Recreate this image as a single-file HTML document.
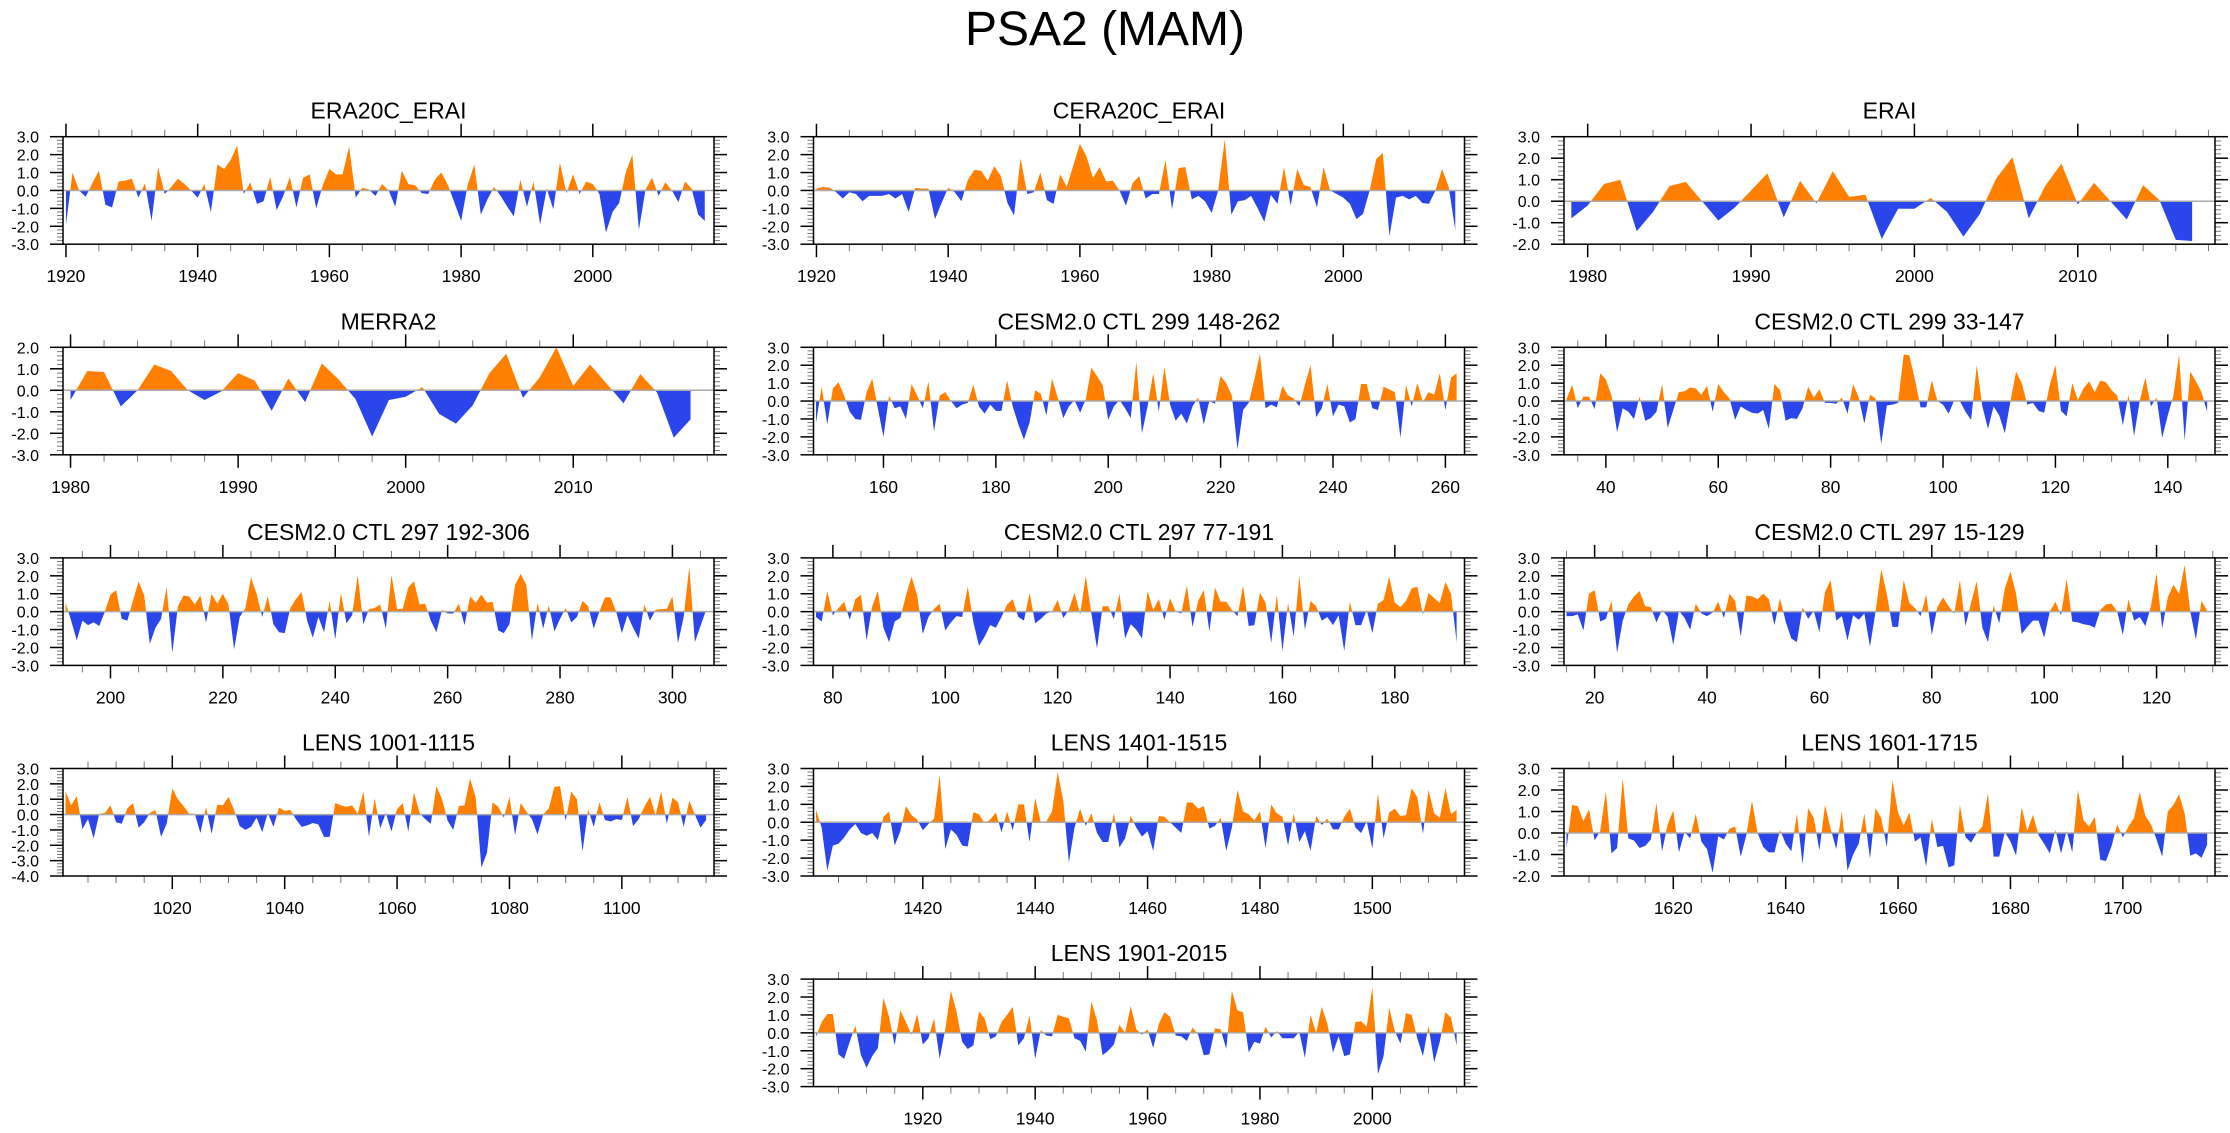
<!DOCTYPE html>
<html><head><meta charset="utf-8"><title>PSA2 (MAM)</title>
<style>html,body{margin:0;padding:0;background:#fff}svg{display:block}text{font-family:"Liberation Sans",Arial,sans-serif;fill:#000}</style>
</head><body>
<svg id="chart" xmlns="http://www.w3.org/2000/svg" width="2230" height="1133" viewBox="0 0 2230 1133">
<rect x="0" y="0" width="2230" height="1133" fill="#fff"/>
<text x="1105" y="45" font-size="48" text-anchor="middle">PSA2 (MAM)</text>
</svg>
<script>
const era20cVals=[-1.9,1.0,0.0,-0.35,0.4,1.1,-0.8,-0.95,0.5,0.55,0.65,-0.4,0.4,-1.7,1.3,-0.2,0.2,0.65,0.35,0.0,-0.4,0.35,-1.2,1.45,1.2,1.7,2.5,-0.2,0.45,-0.75,-0.6,0.75,-1.1,-0.3,0.75,-0.95,0.7,0.9,-1.0,0.3,1.2,0.9,0.9,2.45,-0.4,0.15,0.05,-0.3,0.35,0.0,-0.9,1.1,0.35,0.3,-0.15,-0.2,0.6,1.0,0.3,-0.7,-1.7,0.3,1.45,-1.35,-0.5,0.2,-0.3,-0.9,-1.45,0.6,-0.9,0.5,-1.9,0.1,-1.05,1.55,-0.15,0.9,-0.2,0.5,0.35,-0.2,-2.35,-1.2,-0.7,1.0,2.0,-2.2,0.05,0.7,-0.3,0.45,0.0,-0.65,0.5,0.1,-1.35,-1.7];
const ceraVals=[0.1,0.2,0.15,-0.1,-0.45,-0.1,-0.2,-0.6,-0.3,-0.3,-0.3,-0.2,-0.45,-0.2,-1.2,0.15,0.1,0.1,-1.6,-0.7,0.15,-0.1,-0.6,0.6,1.15,1.1,0.55,1.35,0.8,-0.7,-1.4,1.8,-0.2,-0.1,1.0,-0.55,-0.75,0.9,0.2,1.4,2.6,1.9,0.7,1.3,0.5,0.55,0.0,-0.85,0.4,0.8,-0.45,-0.2,-0.2,1.7,-1.05,1.25,1.3,-0.5,-0.3,-0.6,-1.25,0.0,2.85,-1.35,-0.6,-0.55,-0.3,-1.0,-1.75,-0.25,-0.75,1.3,-0.85,1.2,0.3,0.2,-0.95,1.3,0.0,-0.2,-0.4,-0.75,-1.6,-1.3,0.0,1.75,2.1,-2.55,-0.4,-0.3,-0.5,-0.3,-0.7,-0.75,0.0,1.2,0.2,-2.2];
const eraiVals=[-0.8,-0.2,0.8,1.0,-1.4,-0.5,0.7,0.9,0.0,-0.9,-0.3,0.5,1.3,-0.75,0.95,-0.1,1.4,0.2,0.3,-1.75,-0.35,-0.35,0.15,-0.5,-1.65,-0.6,1.05,2.05,-0.8,0.7,1.75,-0.15,0.85,0.0,-0.85,0.75,0.05,-1.8,-1.85];
const merraVals=[-0.45,0.9,0.85,-0.75,0.0,1.2,0.9,0.0,-0.45,-0.05,0.8,0.45,-0.95,0.55,-0.55,1.25,0.5,-0.4,-2.15,-0.45,-0.3,0.15,-1.1,-1.55,-0.7,0.8,1.7,-0.35,0.6,2.0,0.2,1.2,0.3,-0.6,0.75,-0.1,-2.2,-1.35];
const cesm299aVals=[-1.2,0.8,-1.3,0.7,1.05,0.3,-0.6,-1.0,-1.05,0.5,1.25,-0.4,-2.0,0.3,-0.4,-0.3,-1.0,0.95,0.3,-0.4,1.1,-1.7,0.3,0.5,0.0,-0.4,-0.2,-0.1,0.9,-0.3,-0.7,-0.2,-0.55,-0.55,1.15,-0.3,-1.3,-2.15,-1.2,0.6,0.4,-0.8,1.25,0.2,-0.95,-0.3,0.05,-0.65,0.1,1.85,1.4,0.9,-1.05,-0.3,0.05,-0.4,-0.95,2.2,-1.8,-0.3,1.55,-0.6,1.9,-0.2,-1.1,-0.7,-1.25,-0.3,0.2,-1.3,0.0,-0.15,1.4,1.0,0.3,-2.7,-0.5,-0.1,1.2,2.65,-0.4,-0.2,-0.35,0.85,0.3,0.15,-0.3,0.9,2.0,-0.9,-0.4,0.95,-0.85,-0.2,-0.3,-1.2,-1.0,0.95,0.95,-0.4,-0.5,0.8,0.65,0.5,-2.05,0.9,-0.3,1.0,-0.05,0.5,0.35,1.55,-0.5,1.3,1.55];
const cesm299bVals=[0.1,0.9,-0.4,0.25,0.25,-0.45,1.55,1.2,0.3,-1.75,-0.4,-0.6,-1.0,0.25,-1.1,-0.95,-0.6,0.95,-1.5,-0.5,0.5,0.55,0.75,0.7,0.35,0.85,-0.6,0.95,0.5,0.15,-1.05,-0.3,-0.5,-0.65,-0.7,-0.5,-1.55,0.95,0.6,-1.1,-0.95,-1.0,-0.4,0.8,0.2,0.65,-0.1,-0.1,-0.15,0.2,-0.7,0.95,0.2,-1.25,0.35,0.15,-2.4,-0.25,-0.2,-0.1,2.6,2.55,1.2,-0.35,-0.35,1.15,0.0,-0.2,-0.7,0.05,0.0,-0.6,-1.05,2.0,-0.3,-1.55,-0.3,-0.8,-1.8,0.0,1.65,1.0,-0.2,-0.1,-0.55,-0.65,0.9,2.0,-0.55,-0.85,1.0,0.05,0.7,1.1,0.5,1.15,1.05,0.6,0.3,-1.35,0.35,-1.95,0.0,1.3,-0.3,0.2,-2.05,-0.8,0.3,2.6,-2.2,1.65,1.1,0.5,-0.6];
const cesm297aVals=[0.5,-0.5,-1.6,-0.5,-0.75,-0.6,-0.8,0.0,0.95,1.2,-0.4,-0.5,0.6,1.7,0.9,-1.8,-0.9,-0.4,1.4,-2.3,0.3,0.9,0.85,0.4,0.9,-0.6,1.0,0.45,1.0,0.4,-2.1,-0.3,0.2,1.9,1.0,-0.3,0.85,-0.7,-1.15,-1.2,0.2,0.7,1.1,-0.5,-1.45,-0.3,-1.15,0.6,-1.55,1.05,-0.65,-0.2,2.05,-0.7,0.15,0.2,0.4,-0.95,2.05,0.15,0.15,1.35,1.7,0.4,0.45,-0.5,-1.15,0.1,-0.1,-0.1,0.45,-0.75,0.85,0.5,0.95,0.5,0.55,-1.05,-1.2,-0.7,1.5,2.1,1.5,-1.6,0.5,-0.95,0.35,-1.1,-0.4,0.2,-0.6,-0.3,0.6,0.3,-0.95,0.0,0.8,0.8,0.0,-1.2,-0.2,-0.9,-1.5,0.4,-0.5,0.1,0.15,0.15,0.85,-1.75,-0.3,2.5,-1.7,-0.8,0.1];
const cesm297bVals=[-0.3,-0.55,1.15,-0.2,0.2,0.55,-0.45,0.7,0.95,-1.6,0.3,1.15,-0.9,-1.7,-0.55,-0.35,0.9,1.95,0.9,-1.25,-0.3,0.15,0.45,-1.05,-0.6,-0.25,-0.3,1.4,-0.6,-1.9,-1.4,-0.75,-0.9,-0.3,0.4,0.7,-0.3,-0.5,1.05,-0.65,-0.4,-0.1,0.0,0.65,-0.35,0.1,1.05,-0.15,2.0,-0.1,-2.05,0.3,0.3,-0.4,1.0,-1.5,-0.7,-1.0,-1.5,1.15,0.1,0.7,-0.45,0.75,0.0,-0.1,1.45,-0.85,0.6,1.2,-1.1,1.35,0.55,0.55,0.1,-0.25,1.45,-0.8,-0.75,1.05,0.5,-1.75,0.95,-2.2,0.5,-1.4,2.0,-1.0,0.6,0.3,-0.5,-0.3,-0.75,-0.2,-2.2,0.55,-0.75,-0.75,0.1,-1.2,0.45,0.65,1.95,0.5,0.25,0.6,1.3,1.4,-0.15,1.05,0.75,0.5,1.65,1.0,-1.7];
const cesm297cVals=[-0.25,-0.25,-0.15,-1.05,1.0,1.2,-0.55,-0.4,0.6,-2.3,-0.5,0.4,0.85,1.15,0.3,0.25,-0.6,0.1,-0.3,-1.85,0.05,-0.35,-1.0,0.45,-0.1,-0.25,-0.05,0.55,-0.35,1.0,0.6,-1.4,0.9,0.85,0.7,1.0,0.7,-0.75,0.75,-0.55,-1.5,-1.7,0.25,-0.4,0.05,-1.15,1.1,1.75,-0.5,-0.25,-1.6,-0.2,-0.45,-0.1,-1.95,0.0,2.35,1.0,-0.85,-0.85,1.75,0.5,0.2,-0.25,0.95,-1.3,0.25,0.8,0.3,-0.1,1.75,-0.8,0.5,1.7,-0.9,-1.7,0.35,-0.65,1.3,2.25,1.0,-1.25,-0.85,-0.5,-0.5,-1.45,0.0,0.55,-0.2,1.85,-0.55,-0.6,-0.7,-0.75,-0.9,0.1,0.4,0.45,0.0,-1.3,0.7,-0.5,-0.3,-0.8,0.3,2.15,-0.95,0.8,1.5,1.0,2.6,0.0,-1.55,0.6,0.05];
const lens1001Vals=[1.5,0.6,1.2,-0.95,-0.3,-1.55,0.05,0.1,0.6,-0.5,-0.6,0.4,0.75,-0.85,-0.5,0.1,0.3,-1.45,-0.6,1.7,1.0,0.55,0.05,0.05,-1.2,0.5,-1.25,0.65,0.6,1.15,0.3,-0.75,-1.0,-0.8,-0.2,-1.15,0.1,-0.8,0.45,0.25,0.3,-0.3,-0.8,-0.7,-0.55,-0.65,-1.45,-1.45,0.75,0.6,0.5,0.6,0.05,1.5,-1.45,1.05,-0.9,0.1,-1.1,0.35,0.75,-1.1,1.45,0.1,-0.3,-0.6,1.85,1.0,-0.4,-1.0,0.55,0.6,2.35,1.1,-3.45,-2.5,0.8,0.5,-0.2,1.15,-1.35,0.75,0.2,-0.3,-1.3,0.0,0.4,1.8,1.85,-0.4,1.5,1.0,-2.4,0.35,-0.8,0.8,-0.35,-0.45,-0.3,-0.35,1.15,-0.75,-0.3,0.5,1.15,-0.05,1.5,-0.6,1.1,0.8,-0.8,0.9,0.0,-0.85,-0.35];
const lens1401Vals=[0.7,-0.3,-2.7,-1.3,-1.2,-0.85,-0.4,-0.1,-0.6,-0.75,-0.6,-1.0,0.3,0.6,-1.3,-0.5,0.9,0.4,0.15,-0.45,-0.1,0.2,2.65,-1.5,-0.4,-0.7,-1.3,-1.35,0.55,0.45,-0.05,0.15,0.55,-0.55,0.6,-0.45,1.0,1.0,-1.1,1.35,0.0,0.05,0.6,2.8,1.2,-2.25,-0.3,0.75,-0.2,0.5,-0.6,-1.1,-1.1,0.5,-1.4,-0.9,0.35,-0.3,-0.8,-0.5,-1.6,0.35,0.3,0.0,-0.3,-0.6,1.1,1.1,0.75,0.9,-0.35,-0.2,0.25,-1.6,-0.3,1.8,0.6,0.45,0.1,0.6,-1.45,1.0,0.5,0.3,-1.3,0.5,-1.1,-0.5,-1.6,0.35,-0.15,0.2,-0.4,-0.4,0.3,0.75,-0.3,-0.6,0.05,-1.45,1.6,-0.9,0.55,0.75,0.35,0.4,1.9,1.4,-0.65,1.8,0.5,0.25,1.9,0.45,0.7];
const lens1601Vals=[-0.7,1.3,1.25,0.55,1.1,-0.35,0.1,1.95,-0.95,-0.7,2.55,-0.25,-0.35,-0.7,-0.6,-0.3,1.4,-0.85,0.4,1.05,-0.9,0.05,-0.25,0.9,-0.4,-0.75,-1.85,-0.15,-0.3,0.2,0.3,-1.1,-0.1,1.5,0.0,-0.65,-0.9,-0.9,0.15,-0.5,-0.85,0.9,-1.45,1.15,0.7,-0.8,1.3,0.2,-0.75,1.0,-1.75,-1.0,-0.5,0.9,-1.2,1.15,0.7,-0.65,2.45,0.95,0.35,0.95,-0.4,-0.2,-1.55,0.65,-0.65,-0.6,-1.6,-1.5,1.3,-0.2,-0.45,0.0,0.3,1.85,-1.1,-1.1,0.05,-0.4,-1.05,1.2,0.1,0.85,-0.1,-0.5,-0.95,0.15,-0.95,0.1,-0.9,2.0,0.6,0.3,0.75,-1.25,-1.3,-0.6,0.4,-0.2,0.3,0.7,1.9,0.8,0.4,-0.3,-1.1,1.0,1.3,1.8,0.9,-1.05,-0.95,-1.15,-0.55];
const lens1901Vals=[-0.2,0.6,1.05,1.05,-1.2,-1.45,-0.5,0.4,-1.25,-1.95,-1.3,-0.85,1.95,0.9,-0.7,1.25,0.6,-0.1,1.05,-0.65,-0.3,0.8,-1.45,0.2,2.35,1.2,-0.5,-0.9,-0.7,1.2,0.8,-0.35,-0.2,0.6,1.0,1.45,-0.7,-0.3,0.95,-1.45,0.15,-0.15,-0.2,1.0,0.9,0.8,-0.3,-0.45,-1.05,1.75,0.7,-1.25,-1.0,-0.65,0.45,0.0,1.5,0.2,-0.1,0.2,-0.85,0.5,1.15,0.9,-0.15,-0.2,-0.45,0.3,-0.1,-1.25,-1.2,0.25,0.2,-0.9,2.35,1.25,1.15,-1.1,-0.5,-0.6,0.35,-0.25,0.1,-0.3,-0.3,-0.3,0.05,-1.4,1.0,0.0,1.45,0.5,-1.1,-0.2,-1.3,-1.2,0.6,0.65,0.35,2.55,-2.3,-1.3,1.4,0.1,-0.6,1.1,1.0,-0.3,-1.3,0.4,-1.65,-0.5,1.15,0.85,-0.7];

const panelTitles=["ERA20C_ERAI","CERA20C_ERAI","ERAI","MERRA2","CESM2.0 CTL 299 148-262","CESM2.0 CTL 299 33-147","CESM2.0 CTL 297 192-306","CESM2.0 CTL 297 77-191","CESM2.0 CTL 297 15-129","LENS 1001-1115","LENS 1401-1515","LENS 1601-1715","LENS 1901-2015"];
const panelStarts=[1920,1920,1979,1980,148,33,192,77,15,1001,1401,1601,1901];
const panelSeries=[era20cVals,ceraVals,eraiVals,merraVals,cesm299aVals,cesm299bVals,cesm297aVals,cesm297bVals,cesm297cVals,lens1001Vals,lens1401Vals,lens1601Vals,lens1901Vals];
const panelYMin=[-3,-3,-2,-3,-3,-3,-3,-3,-3,-4,-3,-2,-3];
const panelYMax=[3,3,3,2,3,3,3,3,3,3,3,3,3];
const panelMajor=[20,20,10,10,20,20,20,20,20,20,20,20,20];

const NS="http://www.w3.org/2000/svg";
const svg=document.getElementById('chart');
const colX=[63,813.5,1564], W=651, H=107.5, ROW0=136.7, RS=210.6;
const grid=[[0,0],[1,0],[2,0],[0,1],[1,1],[2,1],[0,2],[1,2],[2,2],[0,3],[1,3],[2,3],[1,4]];
function mk(tag,attrs,parent){const e=document.createElementNS(NS,tag);for(const k in attrs)e.setAttribute(k,attrs[k]);(parent||svg).appendChild(e);return e;}
function slug(s){return s.toLowerCase().replace(/[^a-z0-9]+/g,'-').replace(/^-|-$/g,'');}

panelTitles.forEach((title,p)=>{
  const vals=panelSeries[p], first=panelStarts[p], last=first+vals.length-1;
  const x0=colX[grid[p][0]], y0=ROW0+RS*grid[p][1];
  const xmin=first-0.45, xmax=last+1.4, ymin=panelYMin[p], ymax=panelYMax[p];
  const sx=v=>x0+(v-xmin)/(xmax-xmin)*W;
  const sy=v=>y0+(ymax-v)/(ymax-ymin)*H;
  const g=mk('g',{});
  
  
  const t=mk('text',{x:x0+W/2,y:y0-18,'font-size':23,'text-anchor':'middle'},g);
  t.textContent=title;
  
  
  // area
  const zy=sy(0);
  let pts=sx(first).toFixed(2)+','+zy.toFixed(2)+' ';
  vals.forEach((v,i)=>{pts+=sx(first+i).toFixed(2)+','+sy(v).toFixed(2)+' ';});
  pts+=sx(last).toFixed(2)+','+zy.toFixed(2);
  const cpU=mk('clipPath',{id:'cu'+p},g); mk('rect',{x:x0,y:y0,width:W,height:zy-y0},cpU);
  const cpD=mk('clipPath',{id:'cd'+p},g); mk('rect',{x:x0,y:zy,width:W,height:y0+H-zy},cpD);
  const up=mk('polygon',{points:pts,fill:'#ff8000','clip-path':'url(#cu'+p+')'},g);
  
  
  const dn=mk('polygon',{points:pts,fill:'#2a45ea','clip-path':'url(#cd'+p+')'},g);
  
  
  const zl=mk('line',{x1:x0,x2:x0+W,y1:zy,y2:zy,stroke:'#aaaaaa','stroke-width':1.5},g);
  
  
  // y ticks
  for(let k=Math.round(ymin*5);k<=Math.round(ymax*5);k++){
    const v=k/5, y=sy(v), major=(k%5===0);
    const L=major?13:6, col=major?'#000':'#777', sw=major?1.5:1;
    mk('line',{x1:x0-L,x2:x0,y1:y,y2:y,stroke:col,'stroke-width':sw},g);
    mk('line',{x1:x0+W,x2:x0+W+L,y1:y,y2:y,stroke:col,'stroke-width':sw},g);
    if(major){
      const yl=mk('text',{x:x0-24,y:y+6,'font-size':16,'text-anchor':'end'},g);
      yl.textContent=v.toFixed(1);
      
      
    }
  }
  // x ticks
  const maj=panelMajor[p], minr=maj===20?5:2;
  for(let v=Math.ceil(xmin/minr)*minr;v<=xmax;v+=minr){
    const x=sx(v), major=(v%maj===0);
    const L=major?13:7, col=major?'#000':'#777', sw=major?1.5:1;
    mk('line',{x1:x,x2:x,y1:y0-L,y2:y0,stroke:col,'stroke-width':sw},g);
    mk('line',{x1:x,x2:x,y1:y0+H,y2:y0+H+L,stroke:col,'stroke-width':sw},g);
    if(major){
      const xl=mk('text',{x:x,y:y0+H+38,'font-size':17.5,'text-anchor':'middle'},g);
      xl.textContent=String(v);
      
      
    }
  }
  const box=mk('rect',{x:x0,y:y0,width:W,height:H,fill:'none',stroke:'#000','stroke-width':1.5},g);
  
  
});
</script>
</body></html>
